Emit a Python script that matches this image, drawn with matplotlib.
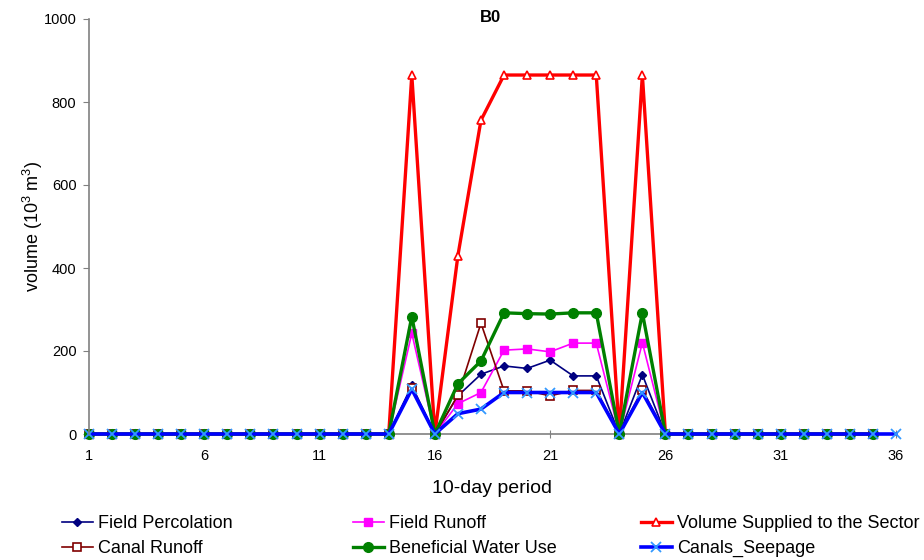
import numpy as np
import matplotlib
matplotlib.use("Agg")
import matplotlib.pyplot as plt

plt.rcParams['font.family'] = ['Liberation Sans', 'DejaVu Sans']
plt.rcParams['mathtext.fontset'] = 'custom'
plt.rcParams['mathtext.rm'] = 'Liberation Sans'
plt.rcParams['mathtext.it'] = 'Liberation Sans:italic'
plt.rcParams['mathtext.bf'] = 'Liberation Sans:bold'

nan = np.nan
periods = list(range(1, 37))
field_percolation = [0]*14 + [117, 0, 92, 144, 164, 158, 178, 140, 140, 0, 143] + [0]*10 + [nan]
field_runoff = [0]*14 + [243, 0, 73, 100, 202, 205, 198, 219, 219, 0, 220] + [0]*10 + [nan]
volume_supplied = [0]*14 + [865, 0, 430, 756, 865, 865, 865, 865, 865, 0, 865] + [0]*10 + [nan]
canal_runoff = [0]*14 + [112, 0, 93, 267, 104, 104, 92, 105, 105, 0, 107] + [0]*10 + [nan]
beneficial_use = [0]*14 + [283, 0, 121, 176, 292, 290, 289, 292, 292, 0, 292] + [0]*10 + [nan]
canals_seepage = [0]*14 + [108, 0, 49, 60, 100, 100, 100, 100, 100, 0, 100] + [0]*10 + [0]

xticks = [1, 6, 11, 16, 21, 26, 31, 36]
yticks = [0, 200, 400, 600, 800, 1000]

W, H = 924, 560
fig = plt.figure(figsize=(W/100, H/100), dpi=100)
ax = fig.add_axes([89/W, 1-434/H, (896-89)/W, (434-19)/H])

common = dict(clip_on=False)
h_fp, = ax.plot(periods, field_percolation, color='#000080', lw=1.2, marker='D', ms=4.5,
                mfc='#000080', mec='#000080', label='Field Percolation', **common)
h_fr, = ax.plot(periods, field_runoff, color='#FF00FF', lw=1.2, marker='s', ms=6,
                mfc='#FF00FF', mec='#FF00FF', label='Field Runoff', **common)
h_vs, = ax.plot(periods, volume_supplied, color='#FF0000', lw=2.4, marker='^', ms=6,
                mfc='white', mec='#FF0000', mew=1.2, label='Volume Supplied to the Sector', **common)
h_cr, = ax.plot(periods, canal_runoff, color='#800000', lw=1.2, marker='s', ms=6,
                mfc='white', mec='#800000', mew=1.2, label='Canal Runoff', **common)
h_bw, = ax.plot(periods, beneficial_use, color='#008000', lw=2.4, marker='o', ms=7,
                mfc='#008000', mec='#008000', label='Beneficial Water Use', **common)
h_cs, = ax.plot(periods, canals_seepage, color='#0000FF', lw=2.6, marker='x', ms=7,
                mec='#3399FF', mew=1.3, label='Canals_Seepage', **common)

ax.set_xlim(1, 36)
ax.set_ylim(0, 1000)
ax.set_xticks(xticks)
ax.set_yticks(yticks)
for s in ['top', 'right']:
    ax.spines[s].set_visible(False)
for s in ['left', 'bottom']:
    ax.spines[s].set_color('#808080')
    ax.spines[s].set_linewidth(1.2)
ax.spines['bottom'].set_zorder(0.5)
ax.tick_params(axis='y', direction='out', length=4, color='#808080', labelsize=10.5, pad=5)
ax.tick_params(axis='x', direction='inout', length=6, color='#808080', labelsize=10.5, pad=8)

ax.set_xlabel('10-day period', fontsize=14, labelpad=12)
ax.set_ylabel(r'volume (10$^3$ m$^3$)', fontsize=13, labelpad=-1.3)
fig.text(490/W, 1-18/H, 'B0', fontsize=12, fontweight='bold', ha='center', va='center')

legend_cols = [([h_fp, h_cr], 62), ([h_fr, h_bw], 353), ([h_vs, h_cs], 641)]
for hs, xpx in legend_cols:
    fig.legend(handles=hs, loc='upper left', bbox_to_anchor=(xpx/W, 1-515/H),
               frameon=False, fontsize=13, handlelength=1.7, handletextpad=0.3,
               labelspacing=0.45, borderpad=0, borderaxespad=0)

fig.savefig('out.png', dpi=100)
